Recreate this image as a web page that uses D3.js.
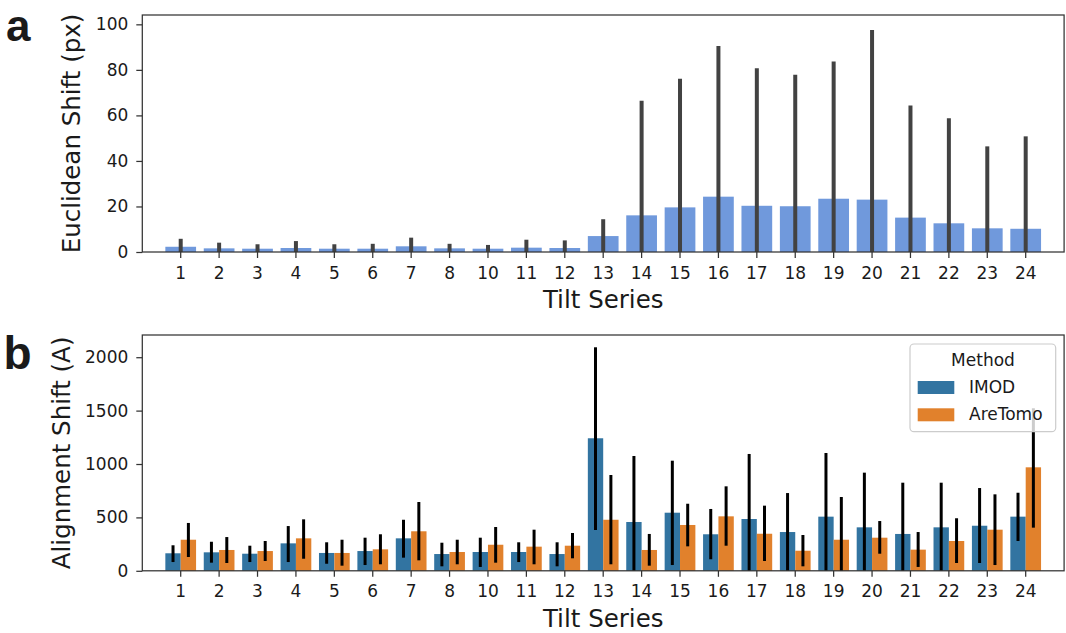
<!DOCTYPE html>
<html>
<head>
<meta charset="utf-8">
<script src="https://cdn.jsdelivr.net/npm/d3@7"></script>
<style>
  html, body { margin: 0; padding: 0; background: #ffffff; }
  svg { display: block; }
  text { font-family: "DejaVu Sans", sans-serif; fill: #1a1a1a; }
</style>
</head>
<body>
<svg id="chart" width="1066" height="633"></svg>
<script>
// ---------------- data ----------------
const categories = ["1","2","3","4","5","6","7","8","10","11","12","13","14","15","16","17","18","19","20","21","22","23","24"];

// Panel a: Euclidean shift (px), mean and CI
const euclidMean = [2.3, 1.6, 1.45, 1.75, 1.45, 1.45, 2.5, 1.6, 1.45, 1.9, 1.75, 7.0, 16.1, 19.6, 24.3, 20.3, 20.1, 23.4, 23.0, 15.1, 12.6, 10.4, 10.2];
const euclidHigh = [5.8, 4.1, 3.4, 4.8, 3.4, 3.6, 6.3, 3.6, 3.1, 5.4, 5.1, 14.4, 66.4, 76.1, 90.5, 80.7, 77.9, 83.7, 97.5, 64.3, 58.7, 46.4, 50.8];
const euclidLow  = [0, 0, 0, 0, 0, 0, 0, 0, 0, 0, 0, 0, 0, 0, 0, 0, 0, 0, 0, 0, 0, 0, 0];
const euclidTicks = [0, 20, 40, 60, 80, 100];

// Panel b: alignment shift (A) per method
const methods = ["IMOD", "AreTomo"];
const imodMean = [164, 173, 160, 257, 167, 185, 304, 157, 176, 176, 157, 1241, 457, 544, 342, 485, 363, 507, 407, 345, 407, 422, 507];
const imodHigh = [239, 272, 235, 419, 267, 310, 478, 263, 310, 267, 267, 2093, 1075, 1031, 579, 1094, 728, 1103, 919, 825, 825, 775, 731];
const imodLow  = [82, 76, 82, 82, 66, 54, 123, 42, 36, 82, 42, 382, 0, 54, 108, 0, 0, 0, 0, 0, 0, 73, 279];
const areMean  = [291, 195, 185, 304, 167, 201, 370, 176, 244, 226, 235, 478, 195, 429, 510, 347, 188, 291, 310, 198, 279, 385, 969];
const areHigh  = [448, 316, 279, 482, 291, 342, 644, 291, 410, 385, 354, 897, 345, 628, 791, 610, 335, 691, 466, 363, 492, 716, 1522];
const areLow   = [129, 73, 92, 113, 48, 61, 98, 61, 76, 61, 117, 61, 48, 229, 235, 92, 42, 0, 160, 36, 73, 54, 404];
const alignTicks = [0, 500, 1000, 1500, 2000];

// ---------------- styles ----------------
const colA = "#7099dc";
const colMethods = { "IMOD": "#3274a1", "AreTomo": "#e1812c" };
const spineCol = "#333333";
const tickFont = "17px";
const labelFont = "24.5px";

const svg = d3.select("#chart");

const X0 = 142.3, X1 = 1064.1;
const x = d3.scaleBand().domain(categories).range([X0, X1]).paddingInner(0).paddingOuter(0.5);
const step = x.step();

function frame(g, y, top, bottom, ticks, tickPadX) {
  const ya = d3.axisLeft(y).tickValues(ticks).tickFormat(d3.format("d")).tickSize(6).tickPadding(8);
  const gy = g.append("g").attr("transform", `translate(${X0},0)`).call(ya);
  gy.select(".domain").remove();
  gy.selectAll("line").attr("stroke", spineCol).attr("stroke-width", 1.25);
  gy.selectAll("text").style("font-size", tickFont).style("font-family", "DejaVu Sans").attr("fill", "#1a1a1a");
  const xa = d3.axisBottom(x).tickSize(6).tickPadding(tickPadX);
  const gx = g.append("g").attr("transform", `translate(0,${bottom})`).call(xa);
  gx.select(".domain").remove();
  gx.selectAll("line").attr("stroke", spineCol).attr("stroke-width", 1.25);
  gx.selectAll("text").style("font-size", tickFont).style("font-family", "DejaVu Sans").attr("fill", "#1a1a1a");
  g.append("rect").attr("x", X0).attr("y", top).attr("width", X1 - X0).attr("height", bottom - top)
    .attr("fill", "none").attr("stroke", spineCol).attr("stroke-width", 1.25);
}

// ---------------- panel a ----------------
const aTop = 15, aBot = 252;
const ya = d3.scaleLinear().domain([0, 104.1]).range([aBot, aTop]);
const ga = svg.append("g");
const bwA = step * 0.8;
ga.selectAll("rect.bar").data(categories).join("rect").attr("class", "bar")
  .attr("x", d => x(d) + step / 2 - bwA / 2)
  .attr("width", bwA)
  .attr("y", (d, i) => ya(euclidMean[i]))
  .attr("height", (d, i) => aBot - ya(euclidMean[i]))
  .attr("fill", colA);
ga.selectAll("line.err").data(categories).join("line").attr("class", "err")
  .attr("x1", d => x(d) + step / 2).attr("x2", d => x(d) + step / 2)
  .attr("y1", (d, i) => ya(euclidLow[i])).attr("y2", (d, i) => ya(euclidHigh[i]))
  .attr("stroke", "#424242").attr("stroke-width", 4);
frame(ga, ya, aTop, aBot, euclidTicks, 9);

ga.append("text").attr("transform", `translate(80,${(aTop + aBot) / 2}) rotate(-90)`)
  .attr("text-anchor", "middle").style("font-size", labelFont).text("Euclidean Shift (px)");
ga.append("text").attr("x", (X0 + X1) / 2).attr("y", 308)
  .attr("text-anchor", "middle").style("font-size", labelFont).text("Tilt Series");
svg.append("text").attr("x", 6).attr("y", 40.5)
  .style("font-family", "'Liberation Sans', Arial, sans-serif").style("font-weight", "bold")
  .style("font-size", "44px").attr("fill", "#000").text("a");

// ---------------- panel b ----------------
const bTop = 335, bBot = 570.8;
const yb = d3.scaleLinear().domain([0, 2208]).range([bBot, bTop]);
const gb = svg.append("g");
const sub = d3.scaleBand().domain(methods).range([-0.4 * step, 0.4 * step]);
const series = [
  { m: "IMOD", mean: imodMean, lo: imodLow, hi: imodHigh },
  { m: "AreTomo", mean: areMean, lo: areLow, hi: areHigh }
];
series.forEach(s => {
  gb.selectAll(null).data(categories).join("rect")
    .attr("x", d => x(d) + step / 2 + sub(s.m))
    .attr("width", sub.bandwidth())
    .attr("y", (d, i) => yb(s.mean[i]))
    .attr("height", (d, i) => bBot - yb(s.mean[i]))
    .attr("fill", colMethods[s.m]);
});
series.forEach(s => {
  gb.selectAll(null).data(categories).join("line")
    .attr("x1", d => x(d) + step / 2 + sub(s.m) + sub.bandwidth() / 2)
    .attr("x2", d => x(d) + step / 2 + sub(s.m) + sub.bandwidth() / 2)
    .attr("y1", (d, i) => yb(s.lo[i])).attr("y2", (d, i) => yb(s.hi[i]))
    .attr("stroke", "#000").attr("stroke-width", 3);
});
frame(gb, yb, bTop, bBot, alignTicks, 8.5);

gb.append("text").attr("transform", `translate(70,${(bTop + bBot) / 2}) rotate(-90)`)
  .attr("text-anchor", "middle").style("font-size", labelFont).text("Alignment Shift (A)");
gb.append("text").attr("x", (X0 + X1) / 2).attr("y", 626.7)
  .attr("text-anchor", "middle").style("font-size", labelFont).text("Tilt Series");
svg.append("text").attr("x", 3.5).attr("y", 369.3)
  .style("font-family", "'Liberation Sans', Arial, sans-serif").style("font-weight", "bold")
  .style("font-size", "46px").attr("fill", "#000").text("b");

// legend
const lg = svg.append("g");
lg.append("rect").attr("x", 910).attr("y", 344).attr("width", 145.7).attr("height", 87.7)
  .attr("rx", 4).attr("fill", "#ffffff").attr("fill-opacity", 0.8)
  .attr("stroke", "#cccccc").attr("stroke-width", 1.2);
lg.append("text").attr("x", 983).attr("y", 365.7).attr("text-anchor", "middle")
  .style("font-size", tickFont).text("Method");
methods.forEach((m, i) => {
  const yy = 381 + i * 27.3;
  lg.append("rect").attr("x", 917.7).attr("y", yy).attr("width", 36.6).attr("height", 13)
    .attr("fill", colMethods[m]);
  lg.append("text").attr("x", 969).attr("y", yy + 11.5).style("font-size", tickFont).text(m);
});
</script>
</body>
</html>
